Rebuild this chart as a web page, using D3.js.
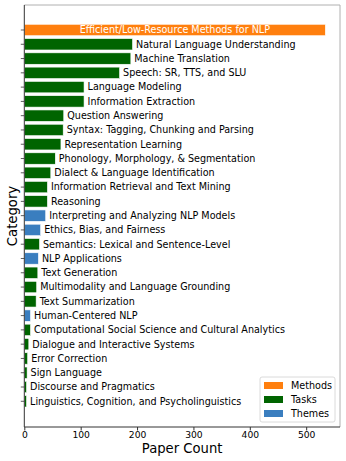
<!DOCTYPE html>
<html><head><meta charset="utf-8">
<script src="https://cdn.jsdelivr.net/npm/d3@7"></script>
<style>body{margin:0;background:#fff;} svg{display:block;font-family:"DejaVu Sans",sans-serif;}</style>
</head><body>
<script>
const categories = ["Efficient/Low-Resource Methods for NLP","Natural Language Understanding","Machine Translation","Speech: SR, TTS, and SLU","Language Modeling","Information Extraction","Question Answering","Syntax: Tagging, Chunking and Parsing","Representation Learning","Phonology, Morphology, & Segmentation","Dialect & Language Identification","Information Retrieval and Text Mining","Reasoning","Interpreting and Analyzing NLP Models","Ethics, Bias, and Fairness","Semantics: Lexical and Sentence-Level","NLP Applications","Text Generation","Multimodality and Language Grounding","Text Summarization","Human-Centered NLP","Computational Social Science and Cultural Analytics","Dialogue and Interactive Systems","Error Correction","Sign Language","Discourse and Pragmatics","Linguistics, Cognition, and Psycholinguistics"];
const counts = [534,192,189,169,106,106,70,69,65,55,47,41,41,38,29,27,25,24,22,21,11,11,8,6,5,4,4];
const groups = ["Methods","Tasks","Tasks","Tasks","Tasks","Tasks","Tasks","Tasks","Tasks","Tasks","Tasks","Tasks","Tasks","Themes","Themes","Tasks","Themes","Tasks","Tasks","Tasks","Themes","Tasks","Tasks","Tasks","Tasks","Tasks","Tasks"];
const legendGroups = ["Methods","Tasks","Themes"];
const xTicks = [0,100,200,300,400,500];
const colors = {Methods:"#ff7f0e", Tasks:"#006400", Themes:"#3a7ebf"};

const W=346,H=461;
const L=24.3,R=340,T=5,B=427;
const svg=d3.select("body").append("svg").attr("width",W).attr("height",H);
const x=d3.scaleLinear().domain([0,560]).range([L,R]);
const y=d3.scaleLinear().domain([-1.75,27.8]).range([T,B]);
const bh=(y(1)-y(0))*0.8;

// spines
svg.append("line").attr("x1",L).attr("x2",R).attr("y1",T).attr("y2",T).attr("stroke","#b0b0b0").attr("stroke-width",1);
svg.append("line").attr("x1",R).attr("x2",R).attr("y1",T).attr("y2",B).attr("stroke","#b0b0b0").attr("stroke-width",1);

// bars
svg.selectAll("rect.bar").data(categories).enter().append("rect")
  .attr("x",x(0)).attr("y",(d,i)=>y(i)-bh/2)
  .attr("width",(d,i)=>x(counts[i])-x(0)).attr("height",bh)
  .attr("fill",(d,i)=>colors[groups[i]]).attr("stroke","#fff").attr("stroke-width",0.6);

// labels
svg.selectAll("text.lab").data(categories).enter().append("text")
  .attr("x",(d,i)=> i===0 ? (x(0)+x(counts[i]))/2 : x(counts[i])+3.5)
  .attr("y",(d,i)=>y(i)).attr("dy","0.35em")
  .attr("text-anchor",(d,i)=> i===0?"middle":"start")
  .attr("fill",(d,i)=> i===0?"#fff":"#000")
  .attr("font-size","9.6px").text(d=>d);

// y axis
const yAxis=svg.append("g");
yAxis.append("line").attr("x1",L).attr("x2",L).attr("y1",T).attr("y2",B).attr("stroke","#333").attr("stroke-width",1);
yAxis.selectAll("line.t").data(categories).enter().append("line")
  .attr("x1",L-3.5).attr("x2",L).attr("y1",(d,i)=>y(i)).attr("y2",(d,i)=>y(i)).attr("stroke","#333").attr("stroke-width",0.8);

// x axis
const xa=svg.append("g").attr("transform",`translate(0,${B})`)
  .call(d3.axisBottom(x).tickValues(xTicks).tickSize(3.5).tickPadding(1.2).tickFormat(d3.format("d")));
xa.select(".domain").attr("stroke","#333").attr("d",`M${L},0H${R}`);
xa.selectAll(".tick line").attr("stroke","#333");
xa.selectAll("text").attr("font-size","9.2px").attr("font-family","DejaVu Sans").attr("fill","#000");

svg.append("text").attr("x",(L+R)/2).attr("y",453).attr("text-anchor","middle").attr("font-size","13.2px").text("Paper Count");
svg.append("text").attr("transform",`translate(16.5,${(T+B)/2}) rotate(-90)`).attr("text-anchor","middle").attr("font-size","13.2px").text("Category");

// legend
const lg=svg.append("g");
lg.append("rect").attr("x",260).attr("y",377).attr("width",75).attr("height",45).attr("rx",2)
  .attr("fill","#fff").attr("fill-opacity",0.85).attr("stroke","#d0d0d0").attr("stroke-width",0.8);
legendGroups.forEach((g,i)=>{
  const cy=385.5+i*14;
  lg.append("rect").attr("x",264).attr("y",cy-3.5).attr("width",19).attr("height",7).attr("fill",colors[g]);
  lg.append("text").attr("x",291).attr("y",cy).attr("dy","0.35em").attr("font-size","9.6px").text(g);
});
</script>
</body></html>
